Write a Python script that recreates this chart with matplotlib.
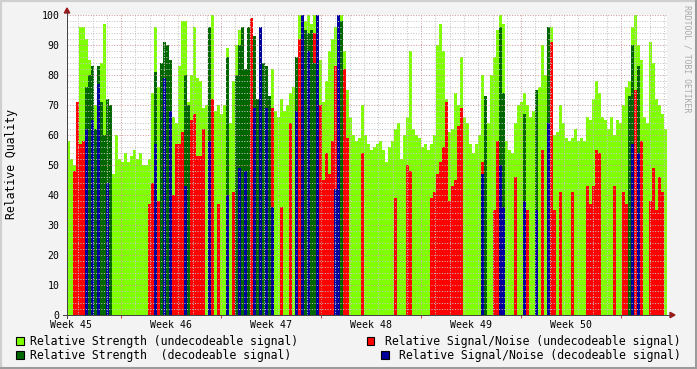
import numpy as np
import matplotlib
matplotlib.use("Agg")
import matplotlib.pyplot as plt
from matplotlib.lines import Line2D
from matplotlib.patches import Rectangle, Polygon

W, H = 697, 369

# six weeks of samples, one value per ~5 hours (0.21 day), 200 samples
bin_days = 0.21

strength_undec = [
    58, 52, 50, 70, 96, 96, 92, 85, 82, 70,
    83, 84, 97, 72, 65, 47, 60, 52, 51, 54,
    51, 53, 55, 52, 54, 50, 50, 52, 74, 96,
    76, 74, 90, 88, 82, 66, 64, 83, 98, 98,
    71, 80, 96, 79, 78, 69, 70, 68, 100, 68,
    70, 67, 70, 89, 64, 78, 90, 95, 96, 80,
    72, 96, 80, 70, 75, 70, 68, 62, 82, 68,
    66, 72, 68, 70, 74, 76, 86, 100, 100, 98,
    100, 97, 100, 100, 85, 71, 78, 88, 92, 96,
    98, 100, 88, 75, 66, 60, 58, 59, 70, 60,
    57, 55, 56, 57, 58, 55, 51, 56, 58, 62,
    64, 52, 60, 66, 88, 62, 60, 59, 56, 57,
    55, 57, 60, 90, 97, 88, 72, 61, 62, 74,
    70, 86, 66, 64, 57, 54, 57, 60, 80, 70,
    64, 80, 86, 95, 100, 97, 58, 55, 54, 64,
    70, 71, 74, 70, 66, 68, 63, 76, 90, 80,
    95, 96, 60, 61, 70, 64, 59, 58, 59, 62,
    58, 59, 58, 66, 65, 72, 78, 74, 66, 65,
    62, 66, 60, 65, 64, 70, 76, 78, 96, 100,
    90, 85, 66, 64, 91, 84, 72, 70, 67, 62,
]

snr_undec = [
    0, 0, 48, 71, 57, 58, 50, 0, 0, 0,
    0, 59, 0, 0, 40, 0, 0, 0, 0, 0,
    0, 0, 0, 0, 0, 0, 0, 37, 44, 0,
    38, 38, 58, 57, 0, 40, 57, 57, 61, 57,
    41, 65, 67, 53, 53, 62, 0, 0, 72, 0,
    37, 0, 0, 0, 0, 41, 38, 0, 0, 0,
    0, 99, 0, 0, 0, 0, 0, 0, 69, 0,
    0, 36, 0, 0, 64, 0, 0, 92, 0, 0,
    0, 0, 94, 0, 70, 45, 54, 47, 58, 83,
    0, 0, 82, 59, 0, 0, 0, 0, 54, 0,
    0, 0, 0, 0, 0, 0, 0, 0, 0, 39,
    0, 0, 0, 50, 48, 0, 0, 0, 0, 0,
    0, 39, 41, 47, 51, 56, 71, 38, 43, 45,
    63, 69, 0, 0, 0, 0, 0, 0, 51, 41,
    0, 0, 35, 58, 43, 0, 0, 0, 0, 46,
    0, 0, 49, 35, 0, 0, 0, 0, 55, 0,
    0, 91, 35, 0, 41, 0, 0, 0, 41, 0,
    0, 0, 0, 43, 37, 43, 55, 54, 0, 0,
    0, 0, 43, 0, 0, 41, 37, 40, 0, 75,
    0, 58, 0, 0, 38, 49, 35, 46, 41, 0,
]

strength_dec = [
    0, 0, 0, 0, 0, 0, 76, 80, 83, 62,
    83, 71, 60, 72, 70, 0, 0, 0, 0, 0,
    0, 0, 0, 0, 0, 0, 0, 0, 0, 81,
    0, 84, 91, 90, 85, 0, 0, 0, 0, 80,
    70, 0, 0, 0, 0, 0, 0, 96, 0, 0,
    0, 0, 0, 86, 0, 0, 80, 90, 96, 82,
    96, 0, 93, 72, 86, 84, 83, 73, 0, 0,
    0, 0, 0, 0, 0, 0, 86, 0, 98, 95,
    94, 95, 84, 84, 0, 0, 0, 0, 0, 0,
    99, 98, 0, 0, 0, 0, 0, 0, 0, 0,
    0, 0, 0, 0, 0, 0, 0, 0, 0, 0,
    0, 0, 0, 0, 0, 0, 0, 0, 0, 0,
    0, 0, 0, 0, 0, 0, 0, 0, 0, 0,
    0, 0, 0, 0, 0, 0, 0, 0, 0, 73,
    0, 0, 0, 0, 96, 74, 0, 0, 0, 0,
    0, 0, 67, 0, 0, 0, 75, 0, 0, 0,
    96, 0, 0, 0, 0, 0, 0, 0, 0, 0,
    0, 0, 0, 0, 0, 0, 0, 0, 0, 0,
    0, 0, 0, 0, 0, 0, 0, 73, 90, 0,
    83, 0, 0, 0, 0, 0, 0, 0, 0, 0,
]

snr_dec = [
    0, 0, 0, 0, 0, 0, 62, 0, 65, 0,
    77, 0, 0, 44, 0, 0, 0, 0, 0, 0,
    0, 0, 0, 0, 0, 0, 0, 0, 0, 57,
    0, 0, 79, 0, 68, 0, 0, 0, 0, 43,
    0, 0, 0, 0, 0, 0, 0, 58, 0, 0,
    0, 0, 0, 40, 0, 0, 0, 49, 0, 48,
    0, 0, 69, 0, 96, 0, 69, 0, 36, 0,
    0, 0, 0, 0, 0, 0, 68, 0, 100, 0,
    88, 0, 0, 100, 0, 0, 0, 0, 0, 42,
    100, 0, 0, 0, 0, 0, 0, 0, 0, 0,
    0, 0, 0, 0, 0, 0, 0, 0, 0, 0,
    0, 0, 0, 0, 0, 0, 0, 0, 0, 0,
    0, 0, 0, 0, 0, 0, 0, 0, 0, 0,
    0, 0, 0, 0, 0, 0, 0, 0, 47, 0,
    0, 0, 0, 0, 50, 36, 0, 0, 0, 0,
    0, 0, 38, 0, 0, 0, 35, 0, 0, 0,
    64, 0, 0, 0, 0, 0, 0, 0, 0, 0,
    0, 0, 0, 0, 0, 0, 0, 0, 0, 0,
    0, 0, 0, 0, 0, 0, 0, 0, 57, 0,
    54, 0, 0, 0, 0, 0, 0, 0, 0, 0,
]

week_labels = ["Week 45", "Week 46", "Week 47", "Week 48", "Week 49", "Week 50"]
legend_labels = [
    "Relative Strength (undecodeable signal)",
    "Relative Signal/Noise (undecodeable signal)",
    "Relative Strength  (decodeable signal)",
    "Relative Signal/Noise (decodeable signal)",
]
colors = ["#80FF00", "#FF0000", "#006600", "#00009C"]

MONO = "DejaVu Sans Mono"


def fx(px):
    return px / W


def fy(py):
    return 1 - py / H


fig = plt.figure(figsize=(W / 100, H / 100), dpi=100, facecolor="#F3F3F3")
ax = fig.add_axes([fx(67), fy(315), 600 / W, 300 / H])
ax.set_facecolor("white")

edges = np.arange(len(strength_undec) + 1) * bin_days
for vals, col in zip([strength_undec, snr_undec, strength_dec, snr_dec], colors):
    ax.stairs(vals, edges, fill=True, color=col, linewidth=0, zorder=2)

ax.set_xlim(0, 42)
ax.set_ylim(0, 100)

# grid, drawn on top of the areas like rrdtool does
minor_dash = (0, (1, 1.6))
for d in np.arange(0.79, 42, 1.0):
    major = abs(((d - 3.79) / 7) - round((d - 3.79) / 7)) < 1e-6
    ax.axvline(d, color="#D09A9A" if major else "#C4C4C4", lw=0.72,
               ls=minor_dash, zorder=3)
for v in range(2, 101, 2):
    ax.axhline(v, color="#D09A9A" if v % 10 == 0 else "#C4C4C4", lw=0.72,
               ls=minor_dash, zorder=3)

for s in ax.spines.values():
    s.set_visible(False)

ax.set_yticks(range(0, 101, 10))
ax.set_yticklabels([str(v) for v in range(0, 101, 10)], family=MONO, fontsize=7.1)
ax.tick_params(axis="y", length=0, pad=5.2)
ax.set_xticks([0.28 + 7 * k for k in range(6)])
ax.set_xticklabels(week_labels, family=MONO, fontsize=7.1)
ax.tick_params(axis="x", which="major", length=0, pad=3.5)
ax.set_xticks([3.79 + 7 * k for k in range(6)], minor=True)
ax.tick_params(axis="x", which="minor", length=2.5, width=0.72,
               color="#C04040", direction="out")

# axes with arrows
axis_col = "#444444"
arrow_col = "#9A1A1A"
fig.add_artist(Line2D([fx(67), fx(67)], [fy(318), fy(12)], lw=0.72,
                      color=axis_col, transform=fig.transFigure))
fig.add_artist(Line2D([fx(63), fx(670)], [fy(315), fy(315)], lw=0.72,
                      color=axis_col, transform=fig.transFigure))
fig.add_artist(Polygon([[fx(67), fy(8)], [fx(64.3), fy(13)], [fx(69.7), fy(13)]],
                       closed=True, color=arrow_col, transform=fig.transFigure))
fig.add_artist(Polygon([[fx(675), fy(315)], [fx(670), fy(312.3)], [fx(670), fy(317.7)]],
                       closed=True, color=arrow_col, transform=fig.transFigure))

# y label and watermark
fig.text(fx(12), fy(164), "Relative Quality", rotation=90, ha="center",
         va="center", family=MONO, fontsize=8.3)
fig.text(fx(686.5), fy(5), "RRDTOOL / TOBI OETIKER", rotation=270, ha="center",
         va="top", family=MONO, fontsize=5.9, color="#A8A8A8")

# legend
rows = [341, 341, 355, 355]
box_x = [16, 367, 16, 381]
for lab, col, yy, bx, i in zip(legend_labels, colors, rows, box_x, range(4)):
    fig.add_artist(Rectangle((fx(bx), fy(yy + 4)), 7.5 / W, 8 / H,
                             facecolor=col, edgecolor="black", lw=0.8,
                             transform=fig.transFigure))
    if i % 2 == 0:
        fig.text(fx(30), fy(yy), lab, ha="left", va="center", family=MONO, fontsize=8.3)
    else:
        fig.text(fx(681), fy(yy), lab, ha="right", va="center", family=MONO, fontsize=8.3)

# frame shading
fig.add_artist(Line2D([0, 1], [fy(0.8), fy(0.8)], lw=1.6, color="#CFCFCF",
                      transform=fig.transFigure))
fig.add_artist(Line2D([fx(0.8), fx(0.8)], [0, 1], lw=1.6, color="#CFCFCF",
                      transform=fig.transFigure))
fig.add_artist(Line2D([0, 1], [fy(367.5), fy(367.5)], lw=2.2, color="#9B9B9B",
                      transform=fig.transFigure))
fig.add_artist(Line2D([fx(695.5), fx(695.5)], [0, 1], lw=2.2, color="#9B9B9B",
                      transform=fig.transFigure))

fig.savefig("out.png", dpi=100, facecolor=fig.get_facecolor())
